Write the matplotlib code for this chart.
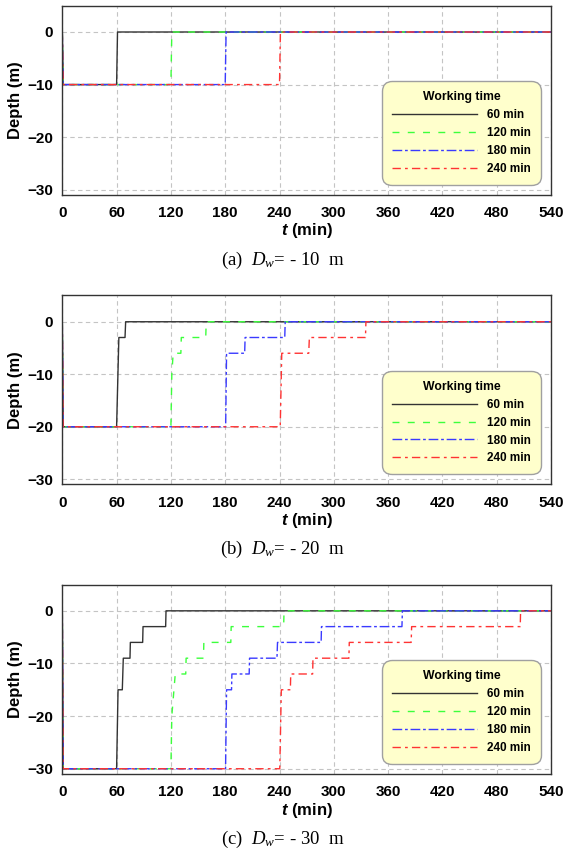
import matplotlib
matplotlib.use("Agg")
import matplotlib.pyplot as plt

plt.rcParams['font.family'] = ['Liberation Sans', 'DejaVu Sans']
plt.rcParams['mathtext.fontset'] = 'custom'
plt.rcParams['mathtext.rm'] = 'Liberation Serif'
plt.rcParams['mathtext.it'] = 'Liberation Serif:italic'
plt.rcParams['mathtext.bfit'] = 'Liberation Sans:italic:bold'

# Working times (legend) and panels
labels = ['60 min', '120 min', '180 min', '240 min']
captions = ['(a)  $D_w$= - 10  m', '(b)  $D_w$= - 20  m', '(c)  $D_w$= - 30  m']
xticks = [0, 60, 120, 180, 240, 300, 360, 420, 480, 540]
yticks = [0, -10, -20, -30]

# Panel (a): Dw = -10 m
a_t60 = [0, 1, 60, 61, 540]
a_d60 = [0, -10, -10, 0, 0]
a_t120 = [0, 1, 120, 121, 540]
a_d120 = [0, -10, -10, 0, 0]
a_t180 = [0, 1, 180, 181, 540]
a_d180 = [0, -10, -10, 0, 0]
a_t240 = [0, 1, 240, 241, 540]
a_d240 = [0, -10, -10, 0, 0]

# Panel (b): Dw = -20 m
b_t60 = [0, 1, 60, 62.5, 69.3, 70, 540]
b_d60 = [0, -20, -20, -3, -3, 0, 0]
b_t120 = [0, 1, 120, 121, 122.5, 131, 131.5, 158.5, 159, 540]
b_d120 = [0, -20, -20, -10, -6, -6, -3, -3, 0, 0]
b_t180 = [0, 1, 180.5, 181.5, 201.5, 202, 245.8, 246.3, 540]
b_d180 = [0, -20, -20, -6, -6, -3, -3, 0, 0]
b_t240 = [0, 1, 240.8, 242.5, 272.3, 273, 335, 335.5, 540]
b_d240 = [0, -20, -20, -6, -6, -3, -3, 0, 0]

# Panel (c): Dw = -30 m
c_t60 = [0, 1, 60, 61.6, 66.3, 67.4, 74.8, 75.2, 88.8, 89.2, 114.2, 114.6, 540]
c_d60 = [0, -30, -30, -15, -15, -9, -9, -6, -6, -3, -3, 0, 0]
c_t120 = [0, 1, 120, 121, 124.8, 136.4, 136.8, 156, 156.4, 186.2, 186.6, 244.6, 245, 540]
c_d120 = [0, -30, -30, -20, -12, -12, -9, -9, -6, -6, -3, -3, 0, 0]
c_t180 = [0, 1, 180.4, 181.5, 187, 187.4, 206.5, 206.9, 237.2, 237.8, 286, 286.4, 375.3, 375.8, 540]
c_d180 = [0, -30, -30, -15, -15, -12, -12, -9, -9, -6, -6, -3, -3, 0, 0]
c_t240 = [0, 1, 240.3, 242, 252, 252.4, 276.6, 277, 316.7, 317.1, 385.5, 386, 506, 506.4, 540]
c_d240 = [0, -30, -30, -15, -15, -12, -12, -9, -9, -6, -6, -3, -3, 0, 0]

panels = [
    [(a_t60, a_d60), (a_t120, a_d120), (a_t180, a_d180), (a_t240, a_d240)],
    [(b_t60, b_d60), (b_t120, b_d120), (b_t180, b_d180), (b_t240, b_d240)],
    [(c_t60, c_d60), (c_t120, c_d120), (c_t180, c_d180), (c_t240, c_d240)],
]

colors = ['#333333', '#3cff3c', '#3a3aff', '#ff3333']
dashes = [None, (5, 6), (7, 2, 2, 2), (6, 3, 2, 3)]

W, H = 565, 852
fig = plt.figure(figsize=(W / 100, H / 100), dpi=100)

# axes boxes in pixels: (top, bottom)
boxes = [(5.7, 195), (295.5, 484.5), (584.5, 774)]
left, right = 62.3, 551

for i, (top, bottom) in enumerate(boxes):
    ax = fig.add_axes([left / W, 1 - bottom / H, (right - left) / W, (bottom - top) / H])
    for j, (t, d) in enumerate(panels[i]):
        line, = ax.plot(t, d, color=colors[j], lw=1.0, label=labels[j])
        if dashes[j] is not None:
            line.set_dashes(dashes[j])
    ax.set_xlim(0, 540)
    ax.set_ylim(-31, 5)
    ax.set_xticks(xticks)
    ax.set_yticks(yticks)
    ax.tick_params(axis='both', length=0, labelsize=11)
    ax.tick_params(axis='x', pad=8)
    ax.tick_params(axis='y', pad=6.5)
    for lab in ax.get_xticklabels() + ax.get_yticklabels():
        lab.set_fontweight('bold')
    ax.grid(True, color='#c4c4c4', lw=0.8, dashes=(4, 3))
    for s in ax.spines.values():
        s.set_color('#333333')
        s.set_linewidth(1.0)
    ax.set_xlabel(r'$\mathbfit{t}$ (min)', fontsize=12, fontweight='bold', labelpad=1)
    ax.set_ylabel('Depth (m)', fontsize=12, fontweight='bold', labelpad=3)

    leg = ax.legend(loc='lower right', bbox_to_anchor=(0.979, 0.053), borderaxespad=0,
                    title='Working time', fancybox=True, framealpha=1,
                    prop={'weight': 'bold', 'size': 8.5}, handlelength=7.2,
                    handletextpad=0.8, labelspacing=0.5, borderpad=0.85)
    leg.get_title().set_fontweight('bold')
    leg.get_title().set_fontsize(8.8)
    frame = leg.get_frame()
    frame.set_facecolor('#ffffcc')
    frame.set_edgecolor('#a0a0a0')
    frame.set_linewidth(1.0)
    frame.set_boxstyle('round,pad=0,rounding_size=0.8')

    fig.text(0.5, 1 - (bottom + 65) / H, captions[i], ha='center', va='center',
             fontsize=13.5, family='Liberation Serif')

fig.savefig('out.png', dpi=100)
